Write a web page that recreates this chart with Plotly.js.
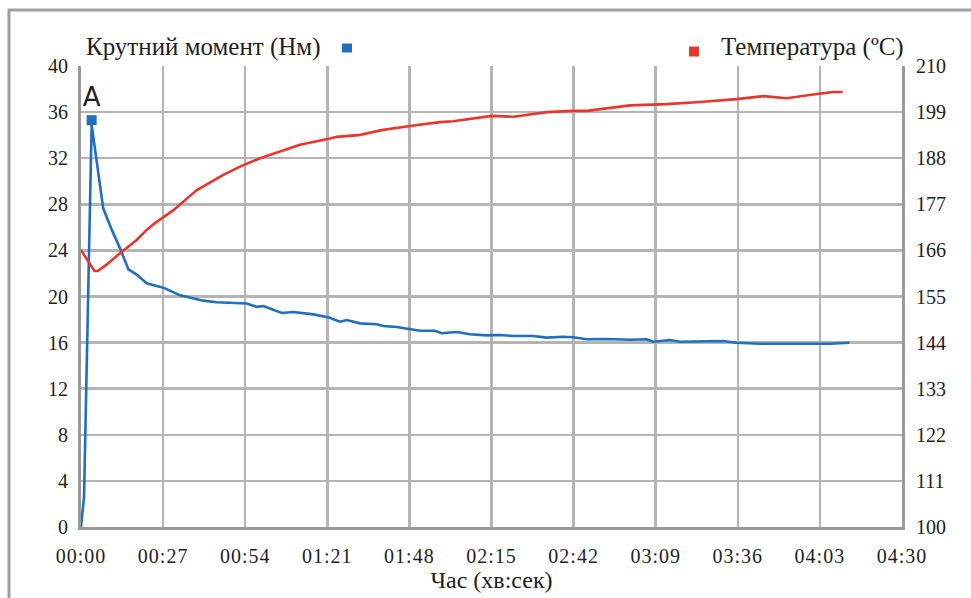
<!DOCTYPE html>
<html>
<head>
<meta charset="utf-8">
<script src="https://cdn.plot.ly/plotly-3.0.1.min.js"></script>
<style>html,body{margin:0;padding:0;background:#fff;}#chart{width:971px;height:598px;}
#chart svg .xtick text{letter-spacing:1px;}
</style>
</head>
<body>
<div id="chart"></div>
<script>
// Time in seconds
const torqueTime = [0, 1.0, 3.5, 7.3, 10.1, 12.8, 15.6, 18.3, 21.6, 27.1, 32.6, 40.2, 44.6, 50.1, 54.5, 57.8, 60.0, 66.0, 69.8, 76.4, 81.9, 83.0, 85.2, 87.4, 91.8, 97.2, 99.4, 103.8, 107.1, 111.5, 116.4, 118.6, 123.6, 127.9, 133.4, 137.8, 142.2, 148.7, 153.2, 158.6, 161.9, 166.3, 172.9, 180.6, 186.0, 188.2, 193.7, 197.0, 211.1, 215.6, 223.3, 246.3, 252.7];
const torqueVal  = [0, 2.6, 34.9, 27.65, 25.8, 24.2, 22.35, 21.9, 21.15, 20.77, 20.1, 19.64, 19.5, 19.46, 19.4, 19.1, 19.17, 18.57, 18.65, 18.45, 18.16, 18.02, 17.81, 17.96, 17.67, 17.59, 17.44, 17.35, 17.21, 17.03, 17.03, 16.81, 16.92, 16.72, 16.63, 16.66, 16.57, 16.57, 16.43, 16.51, 16.46, 16.29, 16.31, 16.25, 16.29, 16.08, 16.23, 16.08, 16.14, 15.99, 15.9, 15.9, 15.99];
const tempTime = [0, 4.4, 5.5, 8.4, 12.8, 18.3, 21.6, 24.3, 30.4, 34.8, 38.1, 46.8, 52.3, 58.9, 65.4, 72.0, 81.9, 84.1, 91.2, 98.9, 108.2, 118.1, 122.4, 135.1, 142.2, 153.2, 161.9, 166.3, 180.6, 192.6, 203.6, 215.6, 224.4, 232.1, 240.8, 247.4, 250.5];
const tempVal  = [166.1, 161.1, 161.1, 162.6, 165.3, 168.5, 170.9, 172.5, 175.6, 178.4, 180.4, 184.0, 186.0, 188.0, 189.6, 191.2, 192.7, 193.1, 193.5, 194.7, 195.7, 196.6, 196.8, 198.1, 197.9, 199.0, 199.3, 199.3, 200.6, 200.9, 201.4, 202.1, 202.8, 202.3, 203.2, 203.8, 203.8];
const peakTime = [3.5];
const peakVal  = [35.3];
const peakLabel = 'A';
const xTickVals = [0, 27, 54, 81, 108, 135, 162, 189, 216, 243, 270];
const xTickText = ['00:00','00:27','00:54','01:21','01:48','02:15','02:42','03:09','03:36','04:03','04:30'];
const yTickVals = [0, 4, 8, 12, 16, 20, 24, 28, 32, 36, 40];
const y2TickVals = [100, 111, 122, 133, 144, 155, 166, 177, 188, 199, 210];
const torqueName = 'Крутний момент (Нм)';
const tempName = 'Температура (ºC)';
const xTitle = 'Час (хв:сек)';

const BLUE = '#1f6fbe';
const RED = '#e8352d';
const GRID = '#b4b4b4';
const FONT = 'Liberation Serif';
const TXT = '#1e1e1e';

const traces = [
  {x: tempTime, y: tempVal, yaxis: 'y2', mode: 'lines', line: {color: RED, width: 2.6}, name: tempName, showlegend: false, hoverinfo: 'skip'},
  {x: torqueTime, y: torqueVal, mode: 'lines', line: {color: BLUE, width: 2.6}, name: torqueName, showlegend: false, hoverinfo: 'skip'},
  {x: peakTime, y: peakVal, mode: 'markers+text', marker: {symbol: 'square', color: BLUE, size: 10}, text: [peakLabel], textposition: 'top center', textfont: {family: 'DejaVu Sans', size: 26, color: TXT}, showlegend: false, hoverinfo: 'skip'}
];

const layout = {
  width: 971, height: 598,
  margin: {l: 81, r: 69, t: 66, b: 71},
  paper_bgcolor: '#fff', plot_bgcolor: '#fff',
  font: {family: FONT, size: 20, color: TXT},
  xaxis: {range: [0, 270], tickvals: xTickVals, ticktext: xTickText, showgrid: true, gridcolor: GRID, gridwidth: 2.5,
          zeroline: false, showline: true, linecolor: '#9a9a9a', linewidth: 3, ticks: '', ticklabelstandoff: 9,
          tickfont: {family: FONT, size: 20, color: TXT},
          title: {text: xTitle, font: {family: FONT, size: 24, color: TXT}, standoff: 6}, fixedrange: true},
  yaxis: {range: [0, 40], tickvals: yTickVals, showgrid: true, gridcolor: GRID, gridwidth: 2.5, zeroline: false,
          tickfont: {family: FONT, size: 20, color: TXT},
          showline: true, linecolor: '#9a9a9a', linewidth: 3, ticks: '', ticklabelstandoff: 6, fixedrange: true},
  yaxis2: {range: [100, 210], tickvals: y2TickVals, overlaying: 'y', side: 'right', showgrid: false, zeroline: false,
           tickfont: {family: FONT, size: 20, color: TXT},
           showline: true, linecolor: '#9a9a9a', linewidth: 3, ticks: '', ticklabelstandoff: 7, fixedrange: true},
  shapes: [
    {type: 'rect', xref: 'paper', yref: 'paper', x0: -0.0877, x1: 1.2, y0: -0.3, y1: 1.1215, line: {color: '#a0a0a0', width: 3}},
    {type: 'rect', xref: 'paper', yref: 'paper', x0: 0.3179, x1: 0.3301, y0: 1.0293, y1: 1.0488, fillcolor: BLUE, line: {width: 0}},
    {type: 'rect', xref: 'paper', yref: 'paper', x0: 0.7406, x1: 0.7527, y0: 1.0206, y1: 1.0423, fillcolor: RED, line: {width: 0}}
  ],
  annotations: [
    {xref: 'paper', yref: 'paper', x: 0.0037, y: 1.0410, xanchor: 'left', yanchor: 'middle', text: torqueName, showarrow: false, font: {family: FONT, size: 25, color: TXT}},
    {xref: 'paper', yref: 'paper', x: 1.0049, y: 1.0410, xanchor: 'right', yanchor: 'middle', text: tempName, showarrow: false, font: {family: FONT, size: 25, color: TXT}}
  ]
};

Plotly.newPlot('chart', traces, layout, {displayModeBar: false, staticPlot: true});
</script>
</body>
</html>
